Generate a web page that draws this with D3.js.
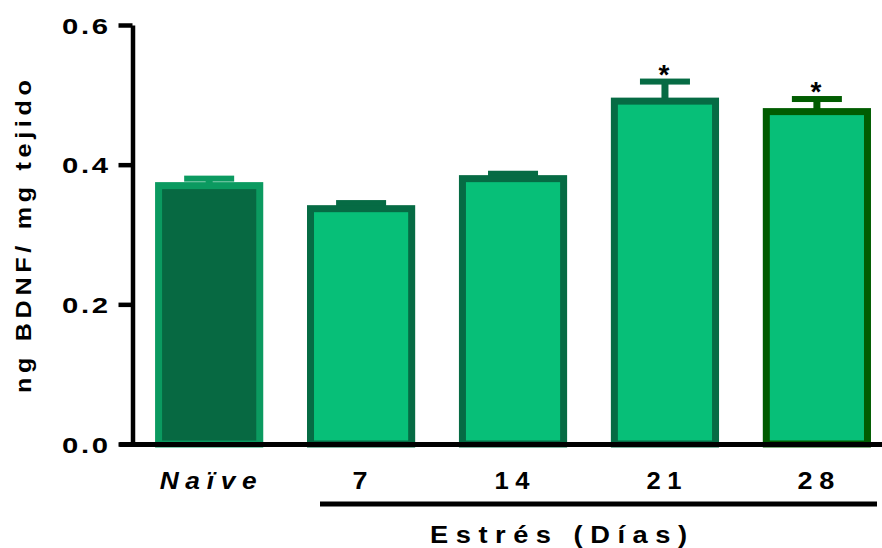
<!DOCTYPE html>
<html>
<head>
<meta charset="utf-8">
<script src="https://cdn.jsdelivr.net/npm/d3@7"></script>
<style>
  html, body { margin: 0; padding: 0; background: #fff; }
  svg { display: block; }
  text { font-family: "Liberation Sans", Arial, sans-serif; font-weight: bold; fill: #000; }
</style>
</head>
<body>
<svg id="chart" width="882" height="548"></svg>
<script>
// BDNF levels per group
const groups = ["Naïve", "7", "14", "21", "28"];
const means  = [0.375, 0.342, 0.385, 0.496, 0.481];
const sems   = [0.005, 0.003, 0.002, 0.023, 0.013];
const marks  = ["", "", "", "*", "*"];
const yTicks = [0, 0.2, 0.4, 0.6];

const fills   = ["#076942", "#07bf78", "#07bf78", "#07bf78", "#07bf78"];
const borders = ["#0b9a60", "#066b44", "#066b44", "#066b44", "#015c01"];

const svg = d3.select("#chart");
const y0 = 444, y1 = 25;
const axisX = 132.5;
const FONT = "Liberation Sans, Arial, sans-serif";

const y = d3.scaleLinear().domain([0, 0.6]).range([y0, y1]);
const x = d3.scaleBand().domain(groups).range([119, 882])
  .paddingInner(0.288).paddingOuter(0.155).align(0.766);

const bw = x.bandwidth();
const sw = 7;        // bar border width
const capW = 50, capH = 6, stemW = 7;

// Wide lettering: stretch a text node horizontally so its run is `width` px,
// placed by anchor ("start" | "middle" | "end") at (ax, ay) in parent coords.
function wide(node, width, anchor, ax, ay, ls) {
  const t = d3.select(node).attr("text-anchor", "start").attr("x", 0).attr("y", 0)
    .attr("dx", 0).attr("dy", 0).attr("letter-spacing", ls);
  const w = node.getBBox().width - ls;
  const sx = width / w;
  const left = anchor === "middle" ? ax - width / 2 : anchor === "end" ? ax - width : ax;
  t.attr("transform", `translate(${left},${ay}) scale(${sx},1)`);
}

// error bars (drawn first so the bar border sits on top)
const eb = svg.append("g");
groups.forEach((g, i) => {
  const cx = x(g) + bw / 2;
  const top = y(means[i] + sems[i]);
  eb.append("rect")
    .attr("x", cx - stemW / 2).attr("y", top)
    .attr("width", stemW).attr("height", y(means[i]) - top + sw)
    .attr("fill", borders[i]);
  eb.append("rect")
    .attr("x", cx - capW / 2).attr("y", top - capH / 2)
    .attr("width", capW).attr("height", capH)
    .attr("fill", borders[i]);
});

// bars: border kept inside the outer edge
svg.append("g").selectAll("rect")
  .data(groups)
  .join("rect")
  .attr("x", d => x(d) + sw / 2)
  .attr("y", (d, i) => y(means[i]) + sw / 2)
  .attr("width", bw - sw)
  .attr("height", (d, i) => y0 - y(means[i]) - sw / 2)
  .attr("fill", (d, i) => fills[i])
  .attr("stroke", (d, i) => borders[i])
  .attr("stroke-width", sw);

// significance marks
svg.append("g").selectAll("text")
  .data(groups)
  .join("text")
  .attr("x", d => x(d) + bw / 2 - 1)
  .attr("y", (d, i) => y(means[i] + sems[i]) - capH / 2 + 5)
  .attr("text-anchor", "middle")
  .attr("font-size", 28)
  .text((d, i) => marks[i]);

// y axis
const yAxis = svg.append("g")
  .attr("transform", `translate(${axisX},0)`)
  .call(d3.axisLeft(y).tickValues(yTicks).tickFormat(d3.format(".1f"))
    .tickSize(14).tickSizeOuter(0).tickPadding(5));
yAxis.select(".domain").attr("stroke", "#000").attr("stroke-width", 4.5);
yAxis.selectAll(".tick line").attr("stroke", "#000").attr("stroke-width", 4.5);
yAxis.selectAll(".tick text")
  .attr("font-size", 22).attr("font-family", FONT)
  .attr("font-weight", "bold").attr("fill", "#000")
  .each(function () { wide(this, 46, "end", 108 - axisX, 8, 2); });

// x axis
const xAxis = svg.append("g")
  .attr("transform", `translate(0,${y0})`)
  .call(d3.axisBottom(x).tickSize(0).tickSizeOuter(0).tickPadding(0));
xAxis.select(".domain").attr("stroke", "#000").attr("stroke-width", 5);
const xLabelWidth = { "Naïve": 97, "7": 15, "14": 35, "21": 35, "28": 37 };
xAxis.selectAll(".tick text")
  .attr("font-size", 23.5).attr("font-family", FONT)
  .attr("font-weight", "bold").attr("fill", "#000")
  .attr("font-style", d => d === "Naïve" ? "italic" : "normal")
  .each(function (d) { wide(this, xLabelWidth[d], "middle", -1, 45, 6); });

// bracket under the stress groups
svg.append("line")
  .attr("x1", 320).attr("x2", 877)
  .attr("y1", 504).attr("y2", 504)
  .attr("stroke", "#000").attr("stroke-width", 5);

const xTitle = svg.append("text")
  .attr("font-size", 23.5)
  .text("Estrés (Días)");
wide(xTitle.node(), 257, "middle", 558.5, 543, 6.5);

// y axis title
const yTitleG = svg.append("g").attr("transform", "translate(31,236.5) rotate(-90)");
const yTitle = yTitleG.append("text")
  .attr("font-size", 21.5)
  .text("ng BDNF/ mg tejido");
wide(yTitle.node(), 313, "middle", 0, 0, 4);
</script>
</body>
</html>
